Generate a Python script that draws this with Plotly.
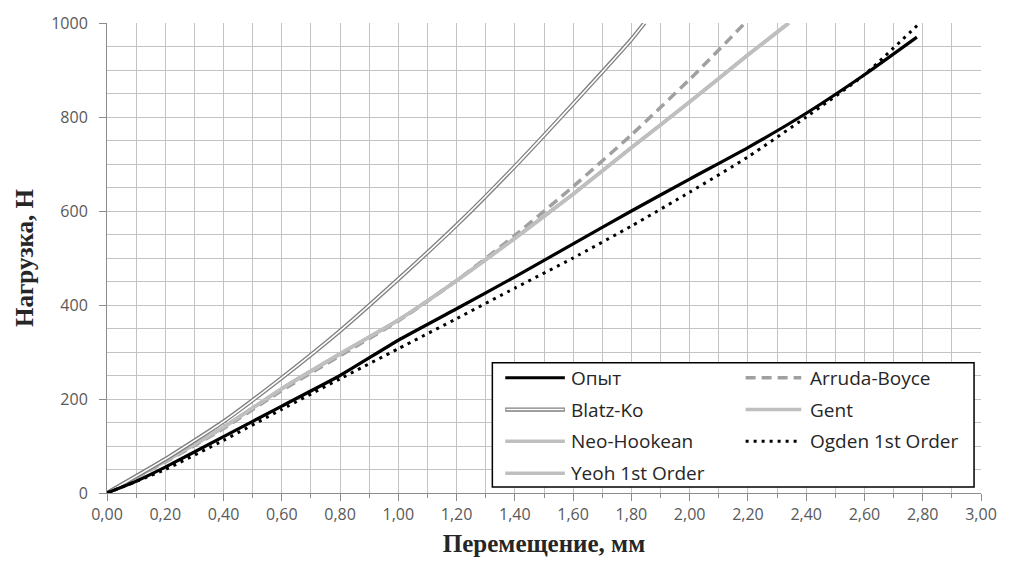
import plotly.graph_objects as go

# Displacement (mm) and load (N) for the test curve and each hyperelastic fit
x_test = [0.0, 0.1, 0.2, 0.4, 0.6, 0.8, 1.0, 1.2, 1.4, 1.6, 1.8, 2.0, 2.2, 2.4, 2.6, 2.78]
f_test = [0, 25, 55, 120, 185, 250, 325, 392, 460, 530, 600, 668, 735, 808, 890, 970]

x_arruda = [0.0, 0.2, 0.4, 0.6, 0.8, 1.0, 1.2, 1.4, 1.6, 1.8, 2.0, 2.19]
f_arruda = [0, 66, 137, 218, 292, 366, 452, 548, 652, 762, 880, 1000]

x_blatz = [0.0, 0.2, 0.4, 0.6, 0.8, 1.0, 1.2, 1.4, 1.6, 1.8, 1.845]
f_blatz = [0, 72, 152, 245, 345, 455, 570, 695, 828, 965, 1000]

x_gent = [0.0, 0.2, 0.4, 0.6, 0.8, 1.0, 1.2, 1.4, 1.6, 1.8, 2.0, 2.2, 2.34]
f_gent = [0, 68, 140, 222, 296, 368, 452, 542, 636, 735, 832, 932, 1000]

x_neo = [0.0, 0.2, 0.4, 0.6, 0.8, 1.0, 1.2, 1.4, 1.6, 1.8, 2.0, 2.2, 2.34]
f_neo = [0, 68, 140, 222, 296, 368, 452, 542, 636, 735, 832, 932, 1000]

x_ogden = [0.0, 0.2, 0.4, 0.6, 0.8, 1.0, 1.2, 1.4, 1.6, 1.8, 2.0, 2.2, 2.4, 2.6, 2.79]
f_ogden = [0, 50, 112, 178, 243, 307, 371, 436, 500, 568, 640, 715, 800, 890, 1000]

x_yeoh = [0.0, 0.2, 0.4, 0.6, 0.8, 1.0, 1.2, 1.4, 1.6, 1.8, 2.0, 2.2, 2.34]
f_yeoh = [0, 68, 140, 222, 296, 368, 452, 542, 636, 735, 832, 932, 1000]

x_ticks = [0.0, 0.2, 0.4, 0.6, 0.8, 1.0, 1.2, 1.4, 1.6, 1.8, 2.0, 2.2, 2.4, 2.6, 2.8, 3.0]
x_tick_text = ["0,00", "0,20", "0,40", "0,60", "0,80", "1,00", "1,20", "1,40",
               "1,60", "1,80", "2,00", "2,20", "2,40", "2,60", "2,80", "3,00"]
y_ticks = [0, 200, 400, 600, 800, 1000]

LIGHT = "#bfbfbf"
DASHGRAY = "#a0a0a0"
DOUBLE = "#7f7f7f"
GRID = "#c3c3c3"

# styles per series (color, width, dash)
styles = {
    "Опыт": ("#000000", 3.2, "solid"),
    "Arruda-Boyce": (DASHGRAY, 3.5, "10px,6px"),
    "Gent": (LIGHT, 3.5, "solid"),
    "Neo-Hookean": (LIGHT, 3.5, "solid"),
    "Ogden 1st Order": ("#000000", 3, "3px,5px"),
    "Yeoh 1st Order": (LIGHT, 3.5, "solid"),
}

fig = go.Figure()


def add_line(x, y, name, color, width, dash):
    fig.add_trace(go.Scatter(
        x=x, y=y, name=name, mode="lines",
        line=dict(color=color, width=width, dash=dash, shape="spline", smoothing=0.5),
        showlegend=False, hoverinfo="x+y+name",
    ))


add_line(x_neo, f_neo, "Neo-Hookean", *styles["Neo-Hookean"])
add_line(x_yeoh, f_yeoh, "Yeoh 1st Order", *styles["Yeoh 1st Order"])
add_line(x_arruda, f_arruda, "Arruda-Boyce", *styles["Arruda-Boyce"])
add_line(x_gent, f_gent, "Gent", *styles["Gent"])
# Blatz-Ko drawn as a double line: dark outer stroke with a white core
add_line(x_blatz, f_blatz, "Blatz-Ko", DOUBLE, 4.2, "solid")
add_line(x_blatz, f_blatz, "Blatz-Ko", "#ffffff", 1.6, "solid")
add_line(x_test, f_test, "Опыт", *styles["Опыт"])
add_line(x_ogden, f_ogden, "Ogden 1st Order", *styles["Ogden 1st Order"])

# plot area geometry in pixels
W, H = 1009, 571
L, R, T, B = 107, 22, 20, 78
PW, PH = W - L - R, H - T - B


def px(xp):
    return (xp - L) / PW


def py(yp):
    return (H - B - yp) / PH


shapes = []
annotations = []

# legend frame
shapes.append(dict(type="rect", xref="paper", yref="paper",
                   x0=px(495), x1=px(980), y0=py(487), y1=py(362),
                   line=dict(color="#000000", width=1.5), fillcolor="#ffffff", layer="above"))

legend_rows = [377, 409, 441, 473]
col1 = (508, 568, 572)
col2 = (750, 806, 813)
legend_layout = [
    ("Опыт", col1, 0), ("Arruda-Boyce", col2, 0),
    ("Blatz-Ko", col1, 1), ("Gent", col2, 1),
    ("Neo-Hookean", col1, 2), ("Ogden 1st Order", col2, 2),
    ("Yeoh 1st Order", col1, 3),
]
for name, (s0, s1, tx), row in legend_layout:
    yy = py(legend_rows[row])
    if name == "Blatz-Ko":
        shapes.append(dict(type="line", xref="paper", yref="paper", x0=px(s0), x1=px(s1), y0=yy, y1=yy,
                           line=dict(color=DOUBLE, width=4.2), layer="above"))
        shapes.append(dict(type="line", xref="paper", yref="paper", x0=px(s0 + 1), x1=px(s1 - 1), y0=yy, y1=yy,
                           line=dict(color="#ffffff", width=1.6), layer="above"))
    else:
        c, w, d = styles[name]
        shapes.append(dict(type="line", xref="paper", yref="paper", x0=px(s0), x1=px(s1), y0=yy, y1=yy,
                           line=dict(color=c, width=w, dash=d), layer="above"))
    annotations.append(dict(x=px(tx), y=yy, xref="paper", yref="paper", text=name,
                            showarrow=False, xanchor="left", yanchor="middle",
                            font=dict(family="Open Sans", size=19, color="#262626")))

fig.update_layout(
    width=W, height=H,
    margin=dict(l=L, r=R, t=T, b=B),
    paper_bgcolor="#ffffff", plot_bgcolor="#ffffff",
    showlegend=False,
    shapes=shapes, annotations=annotations,
    xaxis=dict(
        range=[0, 3], tickvals=x_ticks, ticktext=x_tick_text,
        showgrid=True, gridcolor=GRID, gridwidth=1, zeroline=False,
        showline=True, linecolor="#8c8c8c", linewidth=1,
        ticks="outside", ticklen=7, tickcolor="#8c8c8c", tickwidth=1,
        minor=dict(dtick=0.1, showgrid=True, gridcolor=GRID, gridwidth=1,
                   ticks="outside", ticklen=4, tickcolor="#8c8c8c"),
        tickfont=dict(family="Open Sans", size=16, color="#595959"),
        title=dict(text="<b>Перемещение, мм</b>", standoff=10,
                   font=dict(family="Liberation Serif", size=25, color="#262626")),
    ),
    yaxis=dict(
        range=[0, 1000], tickvals=y_ticks,
        showgrid=True, gridcolor=GRID, gridwidth=1, zeroline=False,
        showline=True, linecolor="#8c8c8c", linewidth=1,
        ticks="outside", ticklen=7, tickcolor="#8c8c8c", tickwidth=1,
        minor=dict(dtick=50, showgrid=True, gridcolor=GRID, gridwidth=1),
        tickfont=dict(family="Open Sans", size=16, color="#595959"),
        ticklabelstandoff=8,
        title=dict(text="<b>Нагрузка, Н</b>", standoff=10,
                   font=dict(family="Liberation Serif", size=25, color="#262626")),
    ),
)

fig.write_html("out.html")
